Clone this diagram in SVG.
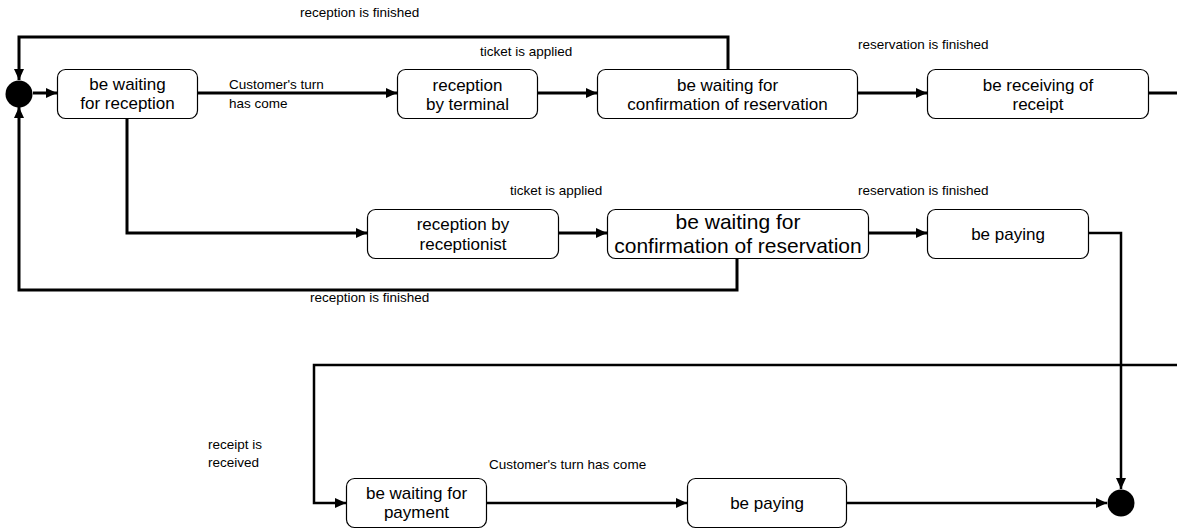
<svg xmlns="http://www.w3.org/2000/svg" width="1177" height="529" viewBox="0 0 1177 529">
  <style>
    .box { fill: #fff; stroke: #000; stroke-width: 1.2; }
    .t { font-family: "Liberation Sans", Arial, sans-serif; font-size: 17px; fill: #000; text-anchor: middle; }
    .tl { font-family: "Liberation Sans", Arial, sans-serif; font-size: 21px; fill: #000; text-anchor: middle; }
    .lbl { font-family: "Liberation Sans", Arial, sans-serif; font-size: 13.5px; fill: #000; }
    .c { fill: none; stroke: #000; stroke-width: 3; }
    .c2 { fill: none; stroke: #000; stroke-width: 2.5; }
    .dot { fill: #000; }
  </style>
  <defs>
    <marker id="arrow" markerUnits="userSpaceOnUse" markerWidth="11" markerHeight="10" refX="11" refY="5" orient="auto">
      <path d="M0,0 L11,5 L0,10 z" fill="#000"/>
    </marker>
  </defs>
  <rect width="1177" height="529" fill="#fff"/>

  <!-- transitions -->
  <g id="connectors">
    <path class="c" d="M33,93 H57" marker-end="url(#arrow)"/>
    <path class="c" d="M197,93 H397" marker-end="url(#arrow)"/>
    <path class="c" d="M537,93 H597" marker-end="url(#arrow)"/>
    <path class="c" d="M857,93 H927" marker-end="url(#arrow)"/>
    <path class="c" d="M1148,93 H1177"/>
    <path class="c" d="M728,69 V37 H19 V80" marker-end="url(#arrow)"/>
    <path class="c" d="M127,118 V233 H367" marker-end="url(#arrow)"/>
    <path class="c" d="M558,233 H607" marker-end="url(#arrow)"/>
    <path class="c" d="M868,233 H927" marker-end="url(#arrow)"/>
    <path class="c" d="M737,258 V290 H19 V107" marker-end="url(#arrow)"/>
    <path class="c2" d="M1088,233 H1121 V489" marker-end="url(#arrow)"/>
    <path class="c2" d="M1177,365 H314 V503 H346" marker-end="url(#arrow)"/>
    <path class="c2" d="M486,503 H687" marker-end="url(#arrow)"/>
    <path class="c2" d="M846,503 H1107" marker-end="url(#arrow)"/>
  </g>

  <!-- transition labels -->
  <g id="labels">
    <text class="lbl" x="300" y="17">reception is finished</text>
    <text class="lbl" x="480" y="56">ticket is applied</text>
    <text class="lbl" x="858" y="49">reservation is finished</text>
    <text class="lbl" x="229" y="89">Customer's turn</text>
    <text class="lbl" x="229" y="108">has come</text>
    <text class="lbl" x="510" y="195">ticket is applied</text>
    <text class="lbl" x="858" y="195">reservation is finished</text>
    <text class="lbl" x="310" y="302">reception is finished</text>
    <text class="lbl" x="208" y="449">receipt is</text>
    <text class="lbl" x="208" y="467">received</text>
    <text class="lbl" x="489" y="469">Customer's turn has come</text>
  </g>

  <g id="start"><circle class="dot" cx="19" cy="94" r="13.5"/></g>

  <g id="waitReception">
    <rect class="box" x="57.5" y="69.5" width="140" height="49" rx="8"/>
    <text class="t" x="127.5" y="90">be waiting</text>
    <text class="t" x="127.5" y="109">for reception</text>
  </g>

  <g id="receptionTerminal">
    <rect class="box" x="397.5" y="69.5" width="140" height="49" rx="8"/>
    <text class="t" x="467.5" y="91">reception</text>
    <text class="t" x="467.5" y="110">by terminal</text>
  </g>

  <g id="confirmTop">
    <rect class="box" x="597.5" y="69.5" width="260" height="49" rx="8"/>
    <text class="t" x="727.5" y="91">be waiting for</text>
    <text class="t" x="727.5" y="110">confirmation of reservation</text>
  </g>

  <g id="receivingReceipt">
    <rect class="box" x="927.5" y="69.5" width="221" height="49" rx="8"/>
    <text class="t" x="1038" y="91">be receiving of</text>
    <text class="t" x="1038" y="110">receipt</text>
  </g>

  <g id="receptionist">
    <rect class="box" x="367.5" y="209.5" width="191" height="49" rx="8"/>
    <text class="t" x="463" y="230">reception by</text>
    <text class="t" x="463" y="250">receptionist</text>
  </g>

  <g id="confirmMiddle">
    <rect class="box" x="607.5" y="209.5" width="261" height="49" rx="8"/>
    <text class="tl" x="738" y="229">be waiting for</text>
    <text class="tl" x="738" y="253">confirmation of reservation</text>
  </g>

  <g id="payingMiddle">
    <rect class="box" x="927.5" y="209.5" width="161" height="49" rx="8"/>
    <text class="t" x="1008" y="240">be paying</text>
  </g>

  <g id="waitPayment">
    <rect class="box" x="346.5" y="478.5" width="140" height="49" rx="8"/>
    <text class="t" x="416.5" y="499">be waiting for</text>
    <text class="t" x="416.5" y="518">payment</text>
  </g>

  <g id="payingBottom">
    <rect class="box" x="687.5" y="478.5" width="159" height="49" rx="8"/>
    <text class="t" x="767" y="509">be paying</text>
  </g>

  <g id="end"><circle class="dot" cx="1121" cy="503" r="13.5"/></g>
</svg>
